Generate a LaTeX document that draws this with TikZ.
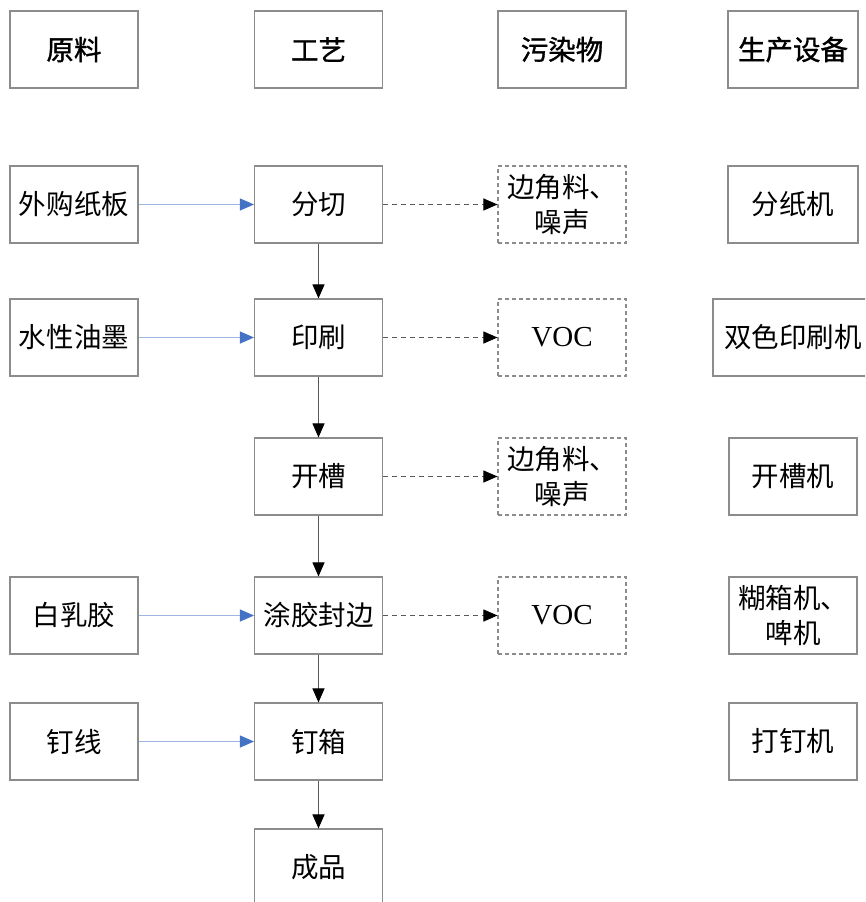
\documentclass[tikz,border=0pt]{standalone}
\usepackage{fontspec}
\setmainfont{Liberation Serif}
\newfontfamily\cjk{Noto Sans CJK SC}
\newfontfamily\cjkb[FakeBold=1.2]{Noto Sans CJK SC}
\usetikzlibrary{arrows.meta}
\definecolor{boxgray}{HTML}{8C8C8C}
\definecolor{bluehead}{HTML}{4472C4}
\definecolor{blueline}{HTML}{9FB5E2}
\tikzset{
  box/.style={draw=boxgray, line width=1.1pt, minimum width=128pt, minimum height=77pt, inner sep=0pt, align=center, font=\fontsize{27.5pt}{35pt}\selectfont\cjk},
  headbox/.style={box, font=\fontsize{27.5pt}{35pt}\selectfont\cjkb},
  dbox/.style={box, dashed, dash pattern=on 4pt off 3pt},
  vocbox/.style={dbox, font=\fontsize{29pt}{35pt}\selectfont},
  feed/.style={draw=blueline, line width=1pt, -{Triangle[length=14pt,width=12pt,color=bluehead]}},
  emit/.style={draw=black!65, line width=1pt, dash pattern=on 5pt off 4pt, -{Triangle[length=14pt,width=12pt,color=black]}},
  flow/.style={draw=black!65, line width=1pt, -{Triangle[length=14pt,width=12pt,color=black]}}
}
\begin{document}
\begin{tikzpicture}[x=1pt,y=-1pt]
\path[use as bounding box, clip] (0,0) rectangle (865,902);
\fill[white] (0,0) rectangle (865,902);
% headers
\node[headbox] (h1) at (74,49.5) {原料};
\node[headbox] (h2) at (318.5,49.5) {工艺};
\node[headbox] (h3) at (562,49.5) {污染物};
\node[headbox, minimum width=130pt] (h4) at (793,49.5) {生产设备};
% raw materials
\node[box] (r1) at (74,204.5) {外购纸板};
\node[box] (r2) at (74,337.5) {水性油墨};
\node[box] (r4) at (74,615.5) {白乳胶};
\node[box] (r5) at (74,741.5) {钉线};
% processes
\node[box] (p1) at (318.5,204.5) {分切};
\node[box] (p2) at (318.5,337.5) {印刷};
\node[box] (p3) at (318.5,476.5) {开槽};
\node[box] (p4) at (318.5,615.5) {涂胶封边};
\node[box] (p5) at (318.5,741.5) {钉箱};
\node[box] (p6) at (318.5,867.5) {成品};
% pollutants
\node[dbox] (e1) at (562,204.5) {边角料、\\噪声};
\node[vocbox] (e2) at (562,337.5) {VOC};
\node[dbox] (e3) at (562,476.5) {边角料、\\噪声};
\node[vocbox] (e4) at (562,615.5) {VOC};
% equipment
\node[box, minimum width=130pt] (q1) at (793,204.5) {分纸机};
\node[box, minimum width=160pt] (q2) at (793,337.5) {双色印刷机};
\node[box] (q3) at (793,476.5) {开槽机};
\node[box] (q4) at (793,615.5) {糊箱机、\\啤机};
\node[box] (q5) at (793,741.5) {打钉机};
% connectors
\draw[feed] (r1) -- (p1);
\draw[feed] (r2) -- (p2);
\draw[feed] (r4) -- (p4);
\draw[feed] (r5) -- (p5);
\draw[emit] (p1) -- (e1);
\draw[emit] (p2) -- (e2);
\draw[emit] (p3) -- (e3);
\draw[emit] (p4) -- (e4);
\draw[flow] (p1) -- (p2);
\draw[flow] (p2) -- (p3);
\draw[flow] (p3) -- (p4);
\draw[flow] (p4) -- (p5);
\draw[flow] (p5) -- (p6);
\end{tikzpicture}
\end{document}
